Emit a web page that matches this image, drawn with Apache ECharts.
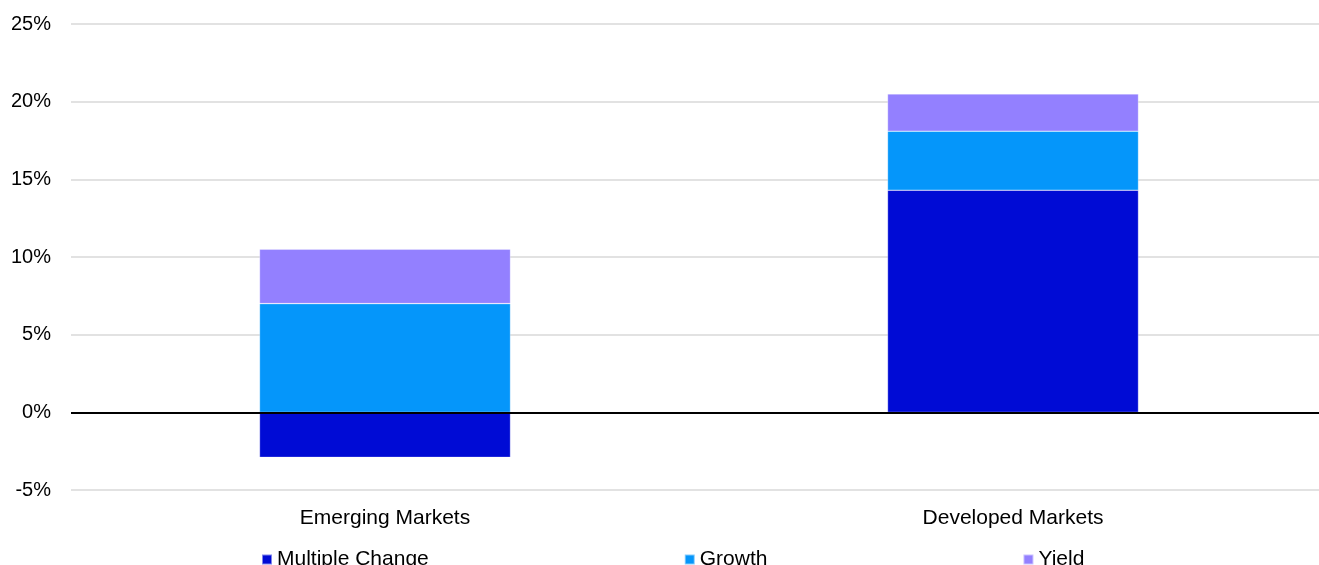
<!DOCTYPE html>
<html>
<head>
<meta charset="utf-8">
<script src="https://cdn.jsdelivr.net/npm/echarts@6/dist/echarts.min.js"></script>
<style>
html,body{margin:0;padding:0;background:#fff;overflow:hidden;}
#chart{width:1327px;height:565px;}
</style>
</head>
<body>
<div id="chart"></div>
<script>
var categories = ['Emerging Markets', 'Developed Markets'];
var multipleChange = [-2.9, 14.3];
var growth = [7.0, 3.8];
var yieldVals = [3.5, 2.4];
var seriesNames = ['Multiple Change', 'Growth', 'Yield'];
var seriesColors = ['#000BD5', '#0596FA', '#9380FF'];
var yTicks = { min: -5, max: 25, interval: 5 };

var font = '"Liberation Sans", Arial, sans-serif';
var chart = echarts.init(document.getElementById('chart'));

function barSeries(name, data, color, extra) {
  var s = {
    name: name,
    type: 'bar',
    stack: 'total',
    barWidth: 251,
    data: data,
    itemStyle: { color: color, borderColor: 'rgba(255,255,255,0.5)', borderWidth: 0.6 },
    emphasis: { disabled: true }
  };
  if (extra) { for (var k in extra) s[k] = extra[k]; }
  return s;
}

chart.setOption({
  animation: false,
  textStyle: { fontFamily: font },
  grid: { left: 71, top: 24, right: 0, height: 466, containLabel: false },
  legend: {
    left: 261,
    top: 549,
    padding: 0,
    itemWidth: 10,
    itemHeight: 10,
    itemGap: 255,
    icon: 'rect',
    textStyle: { fontFamily: font, fontSize: 21, color: '#000', lineHeight: 21 },
    data: seriesNames
  },
  xAxis: {
    type: 'category',
    data: categories,
    position: 'bottom',
    axisLine: { show: false, onZero: false },
    axisTick: { show: false },
    axisLabel: { fontFamily: font, fontSize: 21, color: '#000', margin: 18 },
    splitLine: { show: false }
  },
  yAxis: {
    type: 'value',
    min: yTicks.min,
    max: yTicks.max,
    interval: yTicks.interval,
    axisLine: { show: false },
    axisTick: { show: false },
    axisLabel: { fontFamily: font, fontSize: 20, color: '#000', margin: 20, formatter: '{value}%' },
    splitLine: { lineStyle: { color: '#d9d9d9', width: 1.5 } }
  },
  series: [
    barSeries(seriesNames[0], multipleChange, seriesColors[0], {
      markLine: {
        silent: true,
        symbol: ['none', 'none'],
        label: { show: false },
        lineStyle: { color: '#000', width: 2, type: 'solid' },
        data: [{ yAxis: 0 }],
        z: 10
      }
    }),
    barSeries(seriesNames[1], growth, seriesColors[1]),
    barSeries(seriesNames[2], yieldVals, seriesColors[2])
  ]
});
</script>
</body>
</html>
